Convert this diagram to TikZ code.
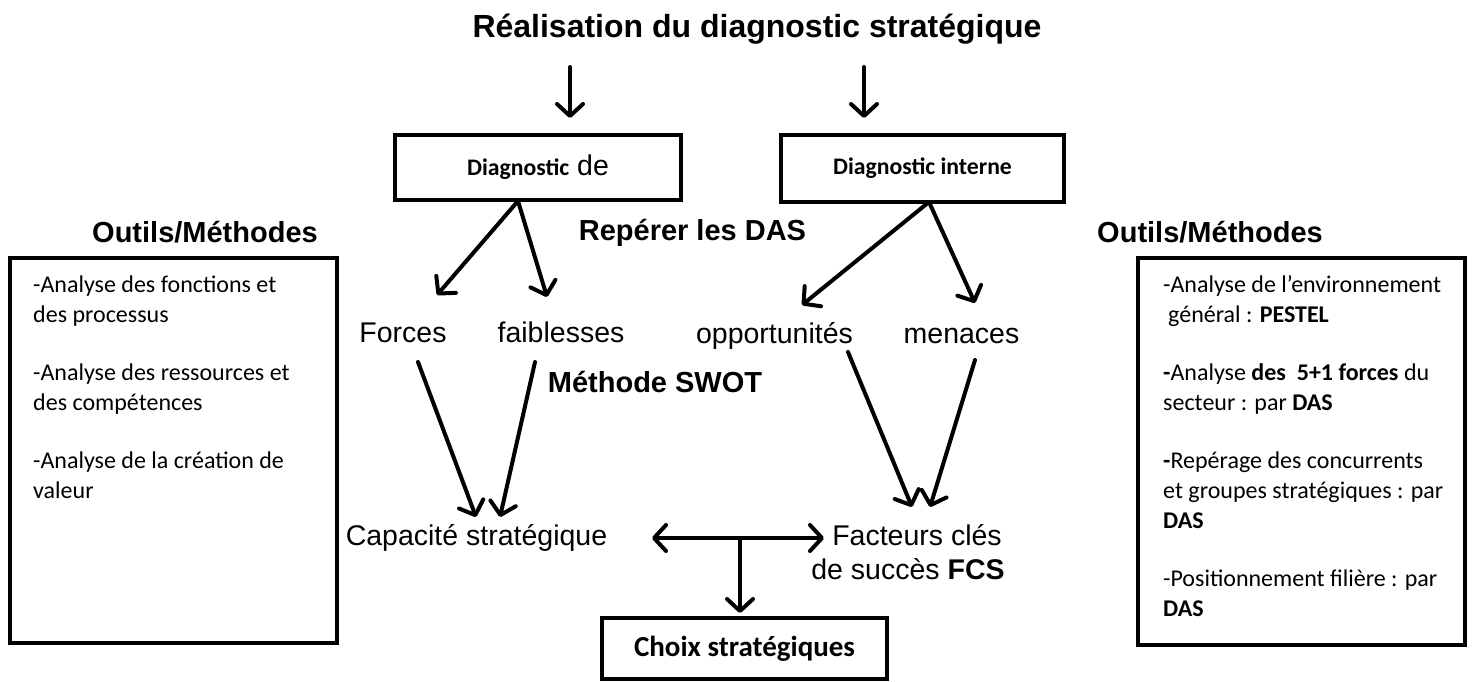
\documentclass[tikz,border=0pt]{standalone}
\usepackage{fontspec}
\setmainfont{Liberation Sans}
\newfontfamily\calf{Carlito}
\usetikzlibrary{arrows.meta}
\begin{document}
\begin{tikzpicture}[x=1pt,y=-1pt,
  lbl/.style={font=\fontsize{28.5}{34}\selectfont, inner sep=0pt, anchor=base},
  blbl/.style={font=\bfseries\fontsize{29}{34}\selectfont, inner sep=0pt, anchor=base},
  cal/.style={font=\calf\fontsize{24}{30}\selectfont, anchor=base west, inner sep=0pt},
  frame/.style={draw, line width=4pt, inner sep=0pt},
  arr/.style={line width=4pt, line cap=round, -{Straight Barb[round,length=12pt,width=26pt]}},
  darr/.style={line width=4pt, line cap=round, {Straight Barb[round,length=12pt,width=26pt]}-{Straight Barb[round,length=12pt,width=26pt]}},
]
\useasboundingbox[fill=white] (0,0) rectangle (1472,682);

% title
\node[inner sep=0pt, anchor=base, font=\bfseries\fontsize{32}{38}\selectfont] (title) at (757,38) {Réalisation du diagnostic stratégique};

% diagnostic boxes
\node[frame, minimum width=286pt, minimum height=65pt] (dl) at (538,167.5)
  {{\calf\bfseries\fontsize{23.7}{28}\selectfont Diagnostic}{\fontsize{28.5}{34}\selectfont\ de}};
\node[frame, minimum width=283pt, minimum height=67pt] (dr) at (922.5,168.5)
  {\calf\bfseries\fontsize{23.7}{28}\selectfont Diagnostic interne};

% top arrows
\coordinate (t1) at (570,67);
\coordinate (t2) at (864,67);
\draw[arr, shorten >=15pt] (t1) -- (t1 |- dl.north);
\draw[arr, shorten >=15pt] (t2) -- (t2 |- dr.north);

% labels
\node[blbl] (rep) at (692.5,240) {Repérer les DAS};
\node[blbl] (ol) at (205,242) {Outils/Méthodes};
\node[blbl] (or) at (1210,242) {Outils/Méthodes};
\node[lbl] (fo) at (403,342) {Forces};
\node[lbl] (fa) at (561,342) {faiblesses};
\node[lbl] (op) at (774.5,343) {opportunités};
\node[lbl] (me) at (961.5,343) {menaces};
\node[blbl] (swot) at (655,392) {Méthode SWOT};
\node[lbl] (cap) at (476.5,545) {Capacité stratégique};
\node[lbl] (fc) at (917,545) {Facteurs clés};
\node[lbl] (fc2) at (908,579) {de succès \textbf{FCS}};

% choix box
\node[frame, minimum width=285pt, minimum height=61pt] (ch) at (744.5,648.5)
  {\calf\bfseries\fontsize{29}{34}\selectfont Choix stratégiques};

% side boxes
\node[frame, minimum width=327pt, minimum height=385pt] (bl) at (173.5,450.5) {};
\node[frame, minimum width=327pt, minimum height=387pt] (br) at (1301.5,451.5) {};

\node[cal] (l1) at (33,292) {-Analyse des fonctions et};
\node[cal] (l2) at (33,322) {des processus};
\node[cal] (l3) at (33,380) {-Analyse des ressources et};
\node[cal] (l4) at (33,410) {des compétences};
\node[cal] (l5) at (33,468) {-Analyse de la création de};
\node[cal] (l6) at (33,498) {valeur};

\node[cal] (r1) at (1163,292) {-Analyse de l’environnement};
\node[cal] (r2) at (1168,322) {général : \textbf{PESTEL}};
\node[cal] (r3) at (1163,380) {\textbf{-}Analyse \textbf{des\ \ 5+1 forces} du};
\node[cal] (r4) at (1163,410) {secteur : par \textbf{DAS}};
\node[cal] (r5) at (1163,468) {\textbf{-}Repérage des concurrents};
\node[cal] (r6) at (1163,498) {et groupes stratégiques : par};
\node[cal] (r7) at (1163,528) {\textbf{DAS}};
\node[cal] (r8) at (1163,586) {-Positionnement filière : par};
\node[cal] (r9) at (1163,616) {\textbf{DAS}};

% connector end points
\coordinate (dlb) at (518,201);
\coordinate (drb) at (929,202);
\coordinate (tfo) at (437,295);
\coordinate (tfa) at (547,297);
\coordinate (top) at (802,305);
\coordinate (tme) at (975,303);
\coordinate (sfo) at (418,362);
\coordinate (sfa) at (535,362);
\coordinate (sop) at (848,352);
\coordinate (sme) at (975,360);
\coordinate (c1) at (476,517);
\coordinate (c2) at (500,517);
\coordinate (f1) at (912,507);
\coordinate (f2) at (930,507);
\coordinate (dA) at (652,538);
\coordinate (dB) at (824,538);
\coordinate (dM) at (740,538);

\draw[arr] (dlb) -- (tfo);
\draw[arr] (dlb) -- (tfa);
\draw[arr] (drb) -- (top);
\draw[arr] (drb) -- (tme);
\draw[arr] (sfo) -- (c1);
\draw[arr] (sfa) -- (c2);
\draw[arr] (sop) -- (f1);
\draw[arr] (sme) -- (f2);
\draw[darr] (dA) -- (dB);
\draw[arr, shorten >=3pt] (dM) -- (dM |- ch.north);
\end{tikzpicture}
\end{document}
